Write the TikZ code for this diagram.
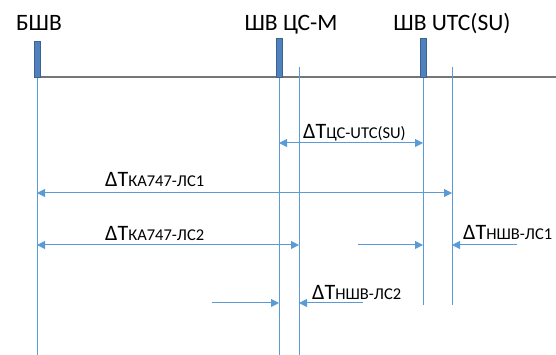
\documentclass[tikz,border=0pt]{standalone}
\usepackage{fontspec}
\setmainfont{Carlito}
\usetikzlibrary{arrows.meta}

\definecolor{barblue}{RGB}{79,129,189}
\definecolor{barline}{RGB}{60,98,145}
\definecolor{lineblue}{RGB}{91,155,213}
\definecolor{axisgray}{RGB}{118,118,118}

\newcommand{\dlabel}[1]{{\fontsize{22pt}{22pt}\selectfont ΔT}{\fontsize{16.5pt}{16.5pt}\selectfont #1}}

\begin{document}
\begin{tikzpicture}[x=1pt,y=1pt,
    clock/.style={draw=barline,fill=barblue,minimum width=6pt,minimum height=39pt,inner sep=0pt,anchor=south},
    title/.style={anchor=base,inner sep=0pt,font=\fontsize{23.5pt}{23.5pt}\selectfont},
    delta/.style={anchor=base west,inner sep=0pt},
    guide/.style={draw=lineblue,line width=0.8pt},
    span/.style={draw=lineblue,line width=1pt,{Triangle[length=8pt,width=8pt]}-{Triangle[length=8pt,width=8pt]}},
    push/.style={draw=lineblue,line width=1pt,-{Triangle[length=8pt,width=8pt]}}]
            \useasboundingbox (0,0) rectangle (556,355);

            % time axis
            \coordinate (axisL) at (37,278);
            \coordinate (axisR) at (556,278);
            \draw[axisgray,line width=1.5pt] (axisL) -- (axisR);

            % guide lines
            \coordinate (g1t) at (37,278);   \coordinate (g1b) at (37,0);
            \coordinate (g2t) at (279,278);  \coordinate (g2b) at (279,0);
            \coordinate (g3t) at (299,288);  \coordinate (g3b) at (299,0);
            \coordinate (g4t) at (423,278);  \coordinate (g4b) at (423,50);
            \coordinate (g5t) at (452,288);  \coordinate (g5b) at (452,50);
            \foreach \g in {1,...,5}
                \draw[guide] (g\g t) -- (g\g b);

            \begin{scope}[every node/.style={clock}]
                \node[minimum height=36pt] (bshv) at (37,278) {};
                \node (cs) at (279,278) {};
                \node (utc) at (423,278) {};
            \end{scope}

            \begin{scope}[every node/.style={title}]
                \node (tbshv) at (39,324) {БШВ};
                \node (tcs) at (291,324) {ШВ ЦС-М};
                \node (tutc) at (452,324) {ШВ UTC(SU)};
            \end{scope}

            % arrow ends
            \coordinate (a1l) at (279,212);  \coordinate (a1r) at (423,212);
            \coordinate (a2l) at (37,162);   \coordinate (a2r) at (452,162);
            \coordinate (a3l) at (37,110);   \coordinate (a3r) at (299,110);
            \coordinate (a4l) at (358,110);  \coordinate (a4m) at (423,110);
            \coordinate (a4n) at (452,110);  \coordinate (a4r) at (517,110);
            \coordinate (a5l) at (212,52);   \coordinate (a5m) at (279,52);
            \coordinate (a5n) at (299,52);   \coordinate (a5r) at (363,52);

            \begin{scope}
                \draw[span] (a1l) -- (a1r);
                \draw[span] (a2l) -- (a2r);
                \draw[span] (a3l) -- (a3r);
                \draw[push] (a4l) -- (a4m);
                \draw[push] (a4r) -- (a4n);
                \draw[push] (a5l) -- (a5m);
                \draw[push] (a5r) -- (a5n);
            \end{scope}

            \begin{scope}[every node/.style={delta}]
                \node (dcsutc) at (303,216) {\dlabel{ЦС-UTC(SU)}};
                \node (dka1) at (105,168) {\dlabel{КА747-ЛС1}};
                \node (dka2) at (105,114) {\dlabel{КА747-ЛС2}};
                \node (dn1) at (463,115) {\dlabel{НШВ-ЛС1}};
                \node (dn2) at (312,55) {\dlabel{НШВ-ЛС2}};
            \end{scope}
\end{tikzpicture}
\end{document}
